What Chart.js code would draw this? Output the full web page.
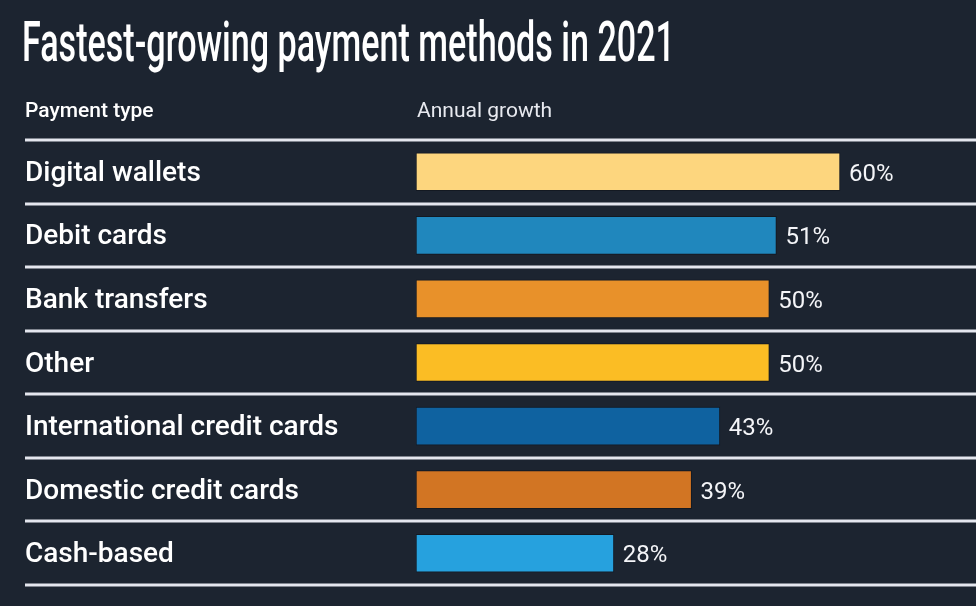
<!DOCTYPE html>
<html>
<head>
<meta charset="utf-8">
<title>Fastest-growing payment methods in 2021</title>
<script src="https://cdn.jsdelivr.net/npm/chart.js@4.4.1/dist/chart.umd.min.js"></script>
<style>
    html, body { margin: 0; padding: 0; background: #1c2430; }
    #wrap { position: relative; width: 976px; height: 606px; }
</style>
</head>
<body>
<div id="wrap"><canvas id="growthChart" width="976" height="606"></canvas></div>
<script>
// Chart data
const chartTitle = 'Fastest-growing payment methods in 2021';
const headerLeft = 'Payment type';
const headerRight = 'Annual growth';
const paymentTypes = [
    'Digital wallets',
    'Debit cards',
    'Bank transfers',
    'Other',
    'International credit cards',
    'Domestic credit cards',
    'Cash-based'
];
const growthValues = [60, 51, 50, 50, 43, 39, 28];
const barColors = ['#fdd67e', '#2087bd', '#e8912a', '#fbbd24', '#0f62a0', '#d27523', '#26a1de'];

const LINE = '#e4e6ee';

// Title, column headers, row separators and value labels
const decorPlugin = {
    id: 'decor',
    beforeDatasetsDraw(chart) {
        const ctx = chart.ctx;
        const yScale = chart.scales.y;
        ctx.save();
        ctx.strokeStyle = LINE;
        ctx.lineWidth = 3;
        for (let i = 0; i <= paymentTypes.length; i++) {
            const y = Math.round(yScale.getPixelForValue(i - 0.5));
            ctx.beginPath();
            ctx.moveTo(25, y);
            ctx.lineTo(chart.width, y);
            ctx.stroke();
        }
        ctx.restore();
    },
    afterDraw(chart) {
        const ctx = chart.ctx;
        ctx.save();
        ctx.fillStyle = '#ffffff';
        ctx.textBaseline = 'alphabetic';

        // title, squeezed to the condensed look of the original
        ctx.font = '500 55px Roboto, sans-serif';
        const w = ctx.measureText(chartTitle).width;
        ctx.save();
        ctx.translate(22, 61);
        ctx.scale(653 / w, 1);
        ctx.fillText(chartTitle, 0, 0);
        ctx.restore();

        ctx.font = '500 21px Roboto, sans-serif';
        ctx.fillText(headerLeft, 25, 117);
        ctx.font = '400 21px Roboto, sans-serif';
        ctx.fillStyle = '#e8eaf0';
        ctx.fillText(headerRight, 417, 117);

        // value labels
        const meta = chart.getDatasetMeta(0);
        ctx.font = '400 24px Roboto, sans-serif';
        ctx.fillStyle = '#f4f5f8';
        meta.data.forEach((bar, i) => {
            ctx.fillText(growthValues[i] + '%', bar.x + 9, bar.y + 9);
        });
        ctx.restore();
    }
};

new Chart(document.getElementById('growthChart'), {
    type: 'bar',
    data: {
        labels: paymentTypes,
        datasets: [{
            data: growthValues,
            backgroundColor: barColors,
            borderColor: 'rgba(10, 14, 20, 0.5)',
            borderWidth: 1,
            borderSkipped: false,
            barThickness: 38
        }]
    },
    options: {
        indexAxis: 'y',
        responsive: false,
        animation: false,
        devicePixelRatio: 1,
        layout: {
            padding: { top: 140, bottom: 21, left: 25, right: 30 }
        },
        plugins: {
            legend: { display: false },
            tooltip: { enabled: false }
        },
        scales: {
            x: {
                display: false,
                min: 0,
                max: 75
            },
            y: {
                afterFit: (scale) => { scale.width = 391; },
                grid: { display: false },
                border: { display: false },
                ticks: {
                    crossAlign: 'far',
                    padding: 0,
                    labelOffset: 2,
                    color: '#ffffff',
                    font: { family: 'Roboto', size: 28, weight: '500' }
                }
            }
        }
    },
    plugins: [decorPlugin]
});
</script>
</body>
</html>
